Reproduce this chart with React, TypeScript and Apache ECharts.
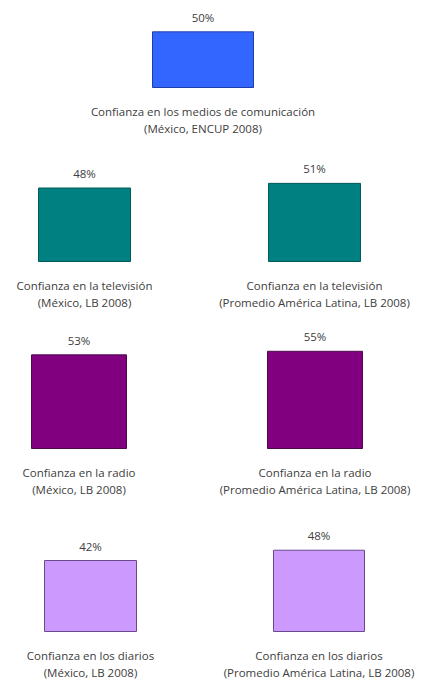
import React, { useEffect, useRef } from "react";
import * as echarts from "echarts";

const categories = [
  "Confianza en los medios de comunicación\n(México, ENCUP 2008)",
  "Confianza en la televisión\n(México, LB 2008)",
  "Confianza en la televisión\n(Promedio América Latina, LB 2008)",
  "Confianza en la radio\n(México, LB 2008)",
  "Confianza en la radio\n(Promedio América Latina, LB 2008)",
  "Confianza en los diarios\n(México, LB 2008)",
  "Confianza en los diarios\n(Promedio América Latina, LB 2008)",
];
const values = [50, 48, 51, 53, 55, 42, 48];
const colors = ["#3366FF", "#008080", "#008080", "#800080", "#800080", "#CC99FF", "#CC99FF"];
const borders = ["#1f3fa8", "#005a5a", "#005a5a", "#4a0a4a", "#4a0a4a", "#6a4a8a", "#6a4a8a"];
const rowOf = [0, 1, 1, 2, 2, 3, 3];
const rowMax = [60, 58, 56, 52.5];

// layout (positions / sizes)
const rowTop = [20, 172, 349, 542];
const rowHeight = [68, 90, 100, 90];
const centers = [203, 84.5, 314.5, 79, 315, 90.5, 319];
const barWidths = [102, 93, 93, 96, 96, 93, 92];
const GW = 120;

export default function App() {
  const ref = useRef<HTMLDivElement>(null);
  useEffect(() => {
    if (!ref.current) return;
    const chart = echarts.init(ref.current, null, { renderer: "svg" });
    const font = "Open Sans";
    const grid = categories.map((_, i) => ({
      left: centers[i] - GW / 2,
      width: GW,
      top: rowTop[rowOf[i]],
      height: rowHeight[rowOf[i]],
    }));
    const xAxis = categories.map((c, i) => ({
      type: "category" as const,
      gridIndex: i,
      data: [c],
      axisLine: { show: false },
      axisTick: { show: false },
      axisLabel: {
        margin: 15,
        color: "#404040",
        fontFamily: font,
        fontSize: 11.5,
        lineHeight: 17,
        interval: 0,
      },
    }));
    const yAxis = categories.map((_, i) => ({
      type: "value" as const,
      gridIndex: i,
      min: 0,
      max: rowMax[rowOf[i]],
      show: false,
      splitLine: { show: false },
    }));
    const series = categories.map((_, i) => ({
      type: "bar" as const,
      xAxisIndex: i,
      yAxisIndex: i,
      barWidth: barWidths[i],
      data: [values[i]],
      itemStyle: { color: colors[i], borderColor: borders[i], borderWidth: 1 },
      label: {
        show: true,
        position: "top" as const,
        distance: 8,
        formatter: "{c}%",
        color: "#404040",
        fontFamily: font,
        fontSize: 11.5,
      },
    }));
    chart.setOption({
      animation: false,
      backgroundColor: "#ffffff",
      grid,
      xAxis,
      yAxis,
      series,
    });
    return () => chart.dispose();
  }, []);
  return (
    <div
      ref={ref}
      style={{ position: "fixed", left: 0, top: 0, width: 423, height: 687 }}
    />
  );
}
